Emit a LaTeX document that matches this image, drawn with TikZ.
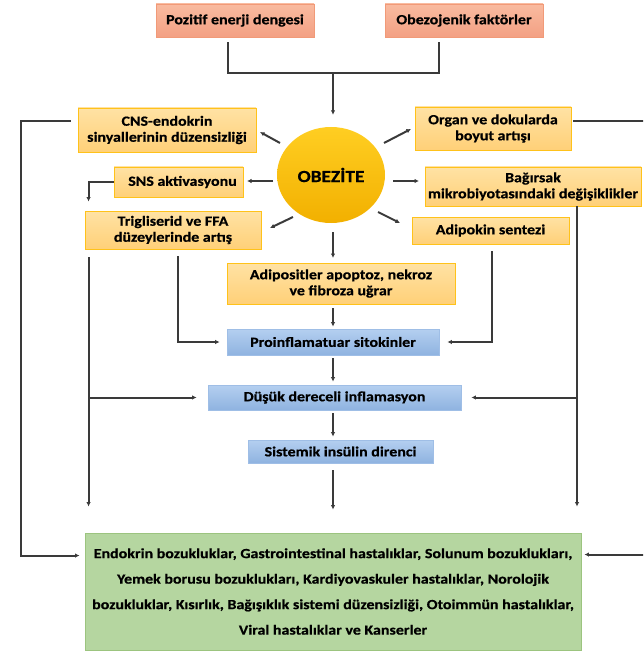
\documentclass[tikz,border=0pt]{standalone}
\usepackage{fontspec}
\setmainfont{Carlito}[FakeStretch=1.14, BoldFeatures={FakeBold=0.6}]
\usetikzlibrary{arrows.meta,calc,shapes.geometric}

\definecolor{salmonTop}{HTML}{F9BBA0}
\definecolor{salmonBot}{HTML}{F3A083}
\definecolor{salmonLine}{HTML}{F19A78}
\definecolor{orTop}{HTML}{FFE2A4}
\definecolor{orBot}{HTML}{FFD078}
\definecolor{orLine}{HTML}{FFC21A}
\definecolor{blTop}{HTML}{B4CFF0}
\definecolor{blBot}{HTML}{8FB3E0}
\definecolor{blLine}{HTML}{9FBEE6}
\definecolor{grFill}{HTML}{B5D6A0}
\definecolor{grLine}{HTML}{9CC47F}
\definecolor{sunTop}{HTML}{FFCE22}
\definecolor{sunBot}{HTML}{F2B000}
\definecolor{lineGray}{HTML}{3A3A3A}

\begin{document}
\begin{tikzpicture}[x=1pt,y=-1pt,
  every node/.style={inner sep=0pt, align=center,
    font=\bfseries\fontsize{14}{16}\selectfont},
  size/.style 2 args={minimum width=#1, minimum height=#2},
  cause/.style={draw=salmonLine, line width=0.8pt, top color=salmonTop, bottom color=salmonBot},
  factor/.style={draw=orLine, line width=0.9pt, top color=orTop, bottom color=orBot},
  stage/.style={draw=blLine, line width=0.8pt, top color=blTop, bottom color=blBot},
  outcome/.style={draw=grLine, line width=0.9pt, fill=grFill,
    font=\bfseries\fontsize{14}{25.5}\selectfont},
  link/.style={draw=lineGray, line width=2pt},
  arr/.style={link, -{Latex[length=4.5pt,width=4.5pt]}},
]
\useasboundingbox (0,0) rectangle (643,652);
\clip (0,0) rectangle (643,652);

% causes
\node[cause, size={158}{33}] (pos) at (235,20.5) {Pozitif enerji dengesi};
\node[cause, size={158}{33}] (obz) at (464,20.5) {Obezojenik faktörler};

% centre
\node[ellipse, size={108}{96}, top color=sunTop, bottom color=sunBot,
      font=\bfseries\fontsize{17}{19}\selectfont] (ob) at (331,175) {OBEZİTE};

% effects around the centre
\node[factor, size={178}{44}] (cns) at (167,130) {CNS-endokrin\\sinyallerinin düzensizliği};
\node[factor, size={156}{43}] (org) at (493,128.5) {Organ ve dokularda\\boyut artışı};
\node[factor, size={129}{30}] (sns) at (178.5,182) {\hspace*{8pt}SNS aktivasyonu};
\node[factor, size={216}{39}] (bag) at (533,186.5) {Bağırsak\\mikrobiyotasındaki değişiklikler};
\node[factor, size={176}{38}] (trig) at (173,230) {Trigliserid ve FFA\\düzeylerinde artış};
\node[factor, size={157}{27}] (adk) at (490.5,230.5) {Adipokin sentezi};
\node[factor, size={228}{41}] (adp) at (341,283.5) {Adipositler apoptoz, nekroz\\ve fibroza uğrar};

% inflammatory chain
\node[stage, size={212}{26}] (pro) at (333,342) {Proinflamatuar sitokinler};
\node[stage, size={253}{25}] (dus) at (334.5,397.5) {Düşük dereceli inflamasyon};
\node[stage, size={185}{23}] (sis) at (340.5,451.5) {Sistemik insülin direnci};

% outcomes
\node[outcome, size={496}{117}] (out) at (333,591.5) {Endokrin bozukluklar, Gastrointestinal hastalıklar, Solunum bozuklukları,\\
Yemek borusu bozuklukları, Kardiyovaskuler hastalıklar, Norolojik\\
bozukluklar, Kısırlık, Bağışıklık sistemi düzensizliği, Otoimmün hastalıklar,\\
Viral hastalıklar ve Kanserler};

% causes merge into the centre
\coordinate (jn) at (333,73);
\draw[link] ($(pos.south)+(-7,5)$) |- (jn) -| ($(obz.south)+(-25,5)$);
\draw[arr] (jn) -- ($(ob.north)+(2,-12)$);

% radial arrows out of the centre
\draw[arr] ($(ob.center)+(-51,-32)$) -- ($(ob.center)+(-71,-43)$);
\draw[arr] ($(ob.center)+(53,-32)$) -- ($(ob.center)+(80,-46)$);
\draw[arr] ($(ob.center)+(-58,6)$) -- ($(ob.center)+(-84,6)$);
\draw[arr] ($(ob.center)+(62,6)$) -- ($(ob.center)+(88,6)$);
\draw[arr] ($(ob.center)+(-38,42)$) -- ($(ob.center)+(-61,53)$);
\draw[arr] ($(ob.center)+(47,37)$) -- ($(ob.center)+(69,48)$);
\draw[arr] ($(ob.center)+(2,57)$) -- ($(ob.center)+(2,83)$);

% outer loops to the outcomes (the right one runs just past the edge)
\draw[arr] ($(cns.west)+(-7,-9)$) -| ($(out.north west)+(-64,23)$) -- ($(out.north west)+(-5,23)$);
\draw[arr] ($(org.east)+(2,-7.5)$) -| ($(out.north east)+(67,22)$) -- ($(out.north east)+(3,22)$);

% SNS to triglycerides
\draw[arr] (sns.west) -| ($(trig.north west)+(4,-9)$);

% left trunk
\coordinate (tl) at ($(trig.south west)+(4,8)$);
\draw[arr, shorten >=26pt] (tl) -- (tl |- out.north);
\coordinate (tlb) at (tl |- dus.west);
\draw[arr, shorten >=11pt] (tlb) -- (dus.west);
\draw[arr, shorten >=7pt] ($(trig.south)+(5,7)$) |- (pro.west);

% right trunk
\draw[arr, shorten >=8pt] ($(adk.south)+(1.5,7)$) |- (pro.east);
\coordinate (br) at ($(bag.south)+(44,0)$);
\draw[arr, shorten >=26pt] (br) -- (br |- out.north);
\coordinate (brb) at (br |- dus.east);
\draw[arr, shorten >=10pt] (brb) -- (dus.east);

% centre column
\draw[arr, shorten <=4pt, shorten >=2pt] (adp.south -| pro.north) -- (pro.north);
\draw[arr, shorten <=3pt, shorten >=3pt] (pro.south) -- (pro.south |- dus.north);
\draw[arr, shorten <=3pt, shorten >=3pt] (dus.south -| pro.south) -- (pro.south |- sis.north);
\draw[arr, shorten <=7pt, shorten >=23pt] (out.north |- sis.south) -- (out.north);
\end{tikzpicture}
\end{document}
